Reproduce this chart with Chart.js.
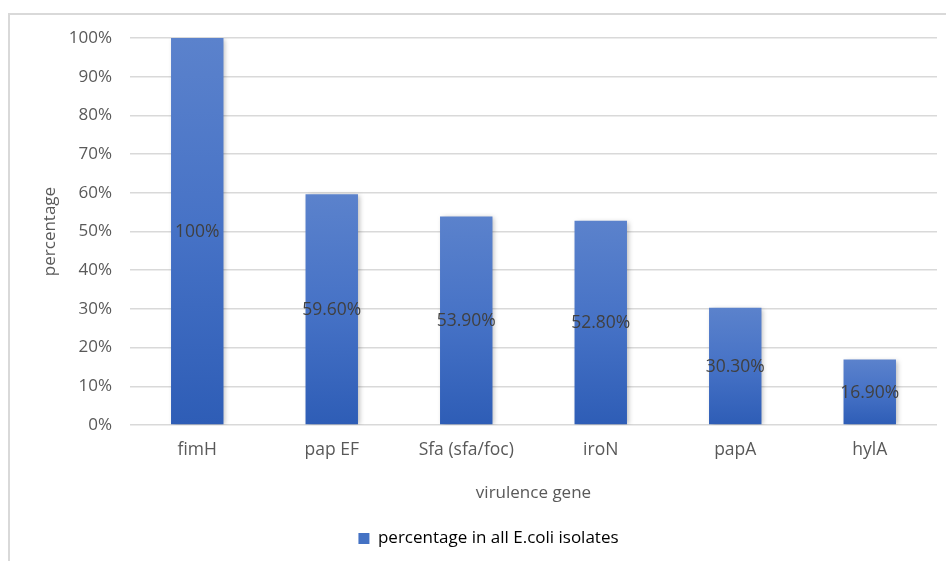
<!DOCTYPE html>
<html>
<head>
<meta charset="utf-8">
<script src="https://cdn.jsdelivr.net/npm/chart.js@4.4.1/dist/chart.umd.min.js"></script>
<style>
  html, body { margin: 0; padding: 0; background: #fff; }
  #wrap { width: 946px; height: 561px; position: relative; }
</style>
</head>
<body>
<div id="wrap"><canvas id="chart"></canvas></div>
<script>
// ─── 数据 ────────────────────────────────────────────────
const genes   = ['fimH', 'pap EF', 'Sfa (sfa/foc)', 'iroN', 'papA', 'hylA'];
const values  = [100, 59.6, 53.9, 52.8, 30.3, 16.9];
const labels  = ['100%', '59.60%', '53.90%', '52.80%', '30.30%', '16.90%'];
const yTicks  = [0, 10, 20, 30, 40, 50, 60, 70, 80, 90, 100];

const FONT = '"Open Sans", "Noto Sans", sans-serif';
const GREY = '#595959';

// 外框（左、上两条边，右下超出画面）
const framePlugin = {
  id: 'frame',
  beforeDraw(chart) {
    const { ctx } = chart;
    ctx.save();
    ctx.strokeStyle = '#d9d9d9';
    ctx.lineWidth = 2;
    ctx.beginPath();
    ctx.moveTo(9, 600);
    ctx.lineTo(9, 14);
    ctx.lineTo(980, 14);
    ctx.stroke();
    ctx.restore();
  },
};

// 柱子阴影
const shadowPlugin = {
  id: 'shadow',
  beforeDatasetsDraw(chart) {
    const { ctx } = chart;
    ctx.save();
    ctx.shadowColor = 'rgba(0,0,0,0.28)';
    ctx.shadowBlur = 5;
    ctx.shadowOffsetX = 2;
    ctx.shadowOffsetY = 1;
  },
  afterDatasetsDraw(chart) {
    chart.ctx.restore();
  },
};

// 柱内居中数据标签
const valueLabelPlugin = {
  id: 'valueLabels',
  afterDatasetsDraw(chart) {
    const { ctx } = chart;
    const meta = chart.getDatasetMeta(0);
    ctx.save();
    ctx.font = '17.5px ' + FONT;
    ctx.fillStyle = '#404040';
    ctx.textAlign = 'center';
    ctx.textBaseline = 'middle';
    meta.data.forEach((bar, i) => {
      const mid = (bar.y + bar.base) / 2;
      ctx.fillText(labels[i], bar.x, mid + 1);
    });
    ctx.restore();
  },
};

function barGradient(context) {
  const chart = context.chart;
  const y = chart.scales.y;
  if (!y || !chart.chartArea) return '#4472c4';
  const v = context.raw ?? 0;
  const top = y.getPixelForValue(v);
  const bottom = y.getPixelForValue(0);
  const g = chart.ctx.createLinearGradient(0, top, 0, bottom);
  g.addColorStop(0, '#5b82cc');
  g.addColorStop(0.5, '#4672c6');
  g.addColorStop(1, '#2e5db6');
  return g;
}

new Chart(document.getElementById('chart'), {
  type: 'bar',
  data: {
    labels: genes,
    datasets: [{
      label: 'percentage in all E.coli isolates',
      data: values,
      backgroundColor: barGradient,
      borderWidth: 0,
      categoryPercentage: 1,
      barPercentage: 0.39,
    }],
  },
  options: {
    responsive: true,
    maintainAspectRatio: false,
    animation: false,
    layout: { padding: { left: 40, right: 9, top: 38, bottom: 4 } },
    plugins: {
      tooltip: { enabled: false },
      legend: {
        position: 'bottom',
        labels: {
          color: GREY,
          font: { family: FONT, size: 17 },
          boxWidth: 11,
          boxHeight: 11,
          padding: 15,
          generateLabels: chart => [{
            text: chart.data.datasets[0].label,
            fillStyle: '#4472c4',
            strokeStyle: '#4472c4',
            lineWidth: 0,
            datasetIndex: 0,
          }],
        },
      },
    },
    scales: {
      x: {
        afterFit: axis => { axis.height = 90; },
        grid: { display: false, drawTicks: false },
        border: { display: false },
        ticks: { color: GREY, font: { family: FONT, size: 17.5 }, padding: 15, maxRotation: 0 },
        title: {
          display: true,
          text: 'virulence gene',
          color: GREY,
          font: { family: FONT, size: 17 },
          padding: { top: 0, bottom: 12 },
        },
      },
      y: {
        min: 0,
        max: 100,
        afterBuildTicks: axis => { axis.ticks = yTicks.map(v => ({ value: v })); },
        afterFit: axis => { axis.width = 90; },
        grid: { color: '#d9d9d9', lineWidth: 1.5, drawTicks: false },
        border: { display: false },
        ticks: {
          color: GREY,
          font: { family: FONT, size: 17 },
          padding: 18,
          callback: v => v + '%',
        },
        title: {
          display: true,
          text: 'percentage',
          color: GREY,
          font: { family: FONT, size: 17 },
          padding: 0,
        },
      },
    },
  },
  plugins: [framePlugin, shadowPlugin, valueLabelPlugin],
});
</script>
</body>
</html>
